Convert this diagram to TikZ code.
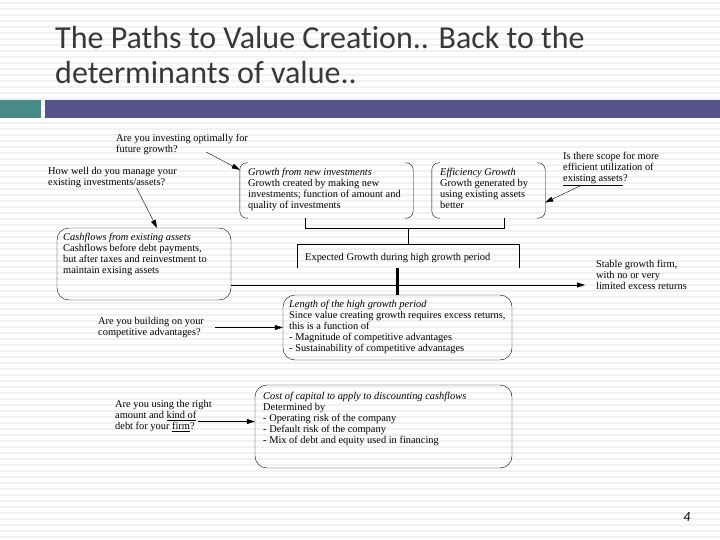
\documentclass[tikz,border=0pt]{standalone}
\usepackage{fontspec}
\setmainfont{Liberation Serif}
\newfontfamily\titlefont[Ligatures={NoCommon,NoRequired,NoContextual}]{Carlito}
\usetikzlibrary{arrows.meta,fit}
\definecolor{slidetitle}{HTML}{383838}
\definecolor{barteal}{HTML}{478A88}
\definecolor{barpurple}{HTML}{56548A}
\definecolor{stripe}{HTML}{F1F1F1}
\newcommand{\dtext}{\fontsize{10.4}{11}\selectfont}
\tikzset{
  txt/.style={font=\dtext, align=left, inner sep=0pt, anchor=north west},
  rbox/.style={draw, rounded corners=12pt, inner sep=0pt},
  frame/.style={inner sep=0pt},
  qarrow/.style={-{Triangle[length=8pt,width=5pt]}},
}
\begin{document}
\begin{tikzpicture}[x=1pt,y=-1pt]
\useasboundingbox (0,0) rectangle (720,540);
\foreach \y in {3,9,...,537}
  \draw[stripe,line width=2pt] (0,\y) -- (720,\y);
% title and bars
\node[anchor=north west, inner sep=0pt, align=left, text=slidetitle,
  font=\titlefont\fontsize{32}{35}\selectfont] (title) at (55,26)
  {The Paths to Value Creation.. Back to the\\determinants of value..};
\fill[barteal] (0,100) rectangle (41,118);
\fill[barpurple] (45,100) rectangle (720,118);
% boxes
\node[rbox, fit={(57,228) (231,300)}] (cash) {};
\node[txt] (cashtxt) at (63,233) {\textit{Cashflows from existing assets}\\Cashflows before debt payments,\\but after taxes and reinvestment to\\maintain exising assets};
\node[frame, fit={(240,163) (413,218)}] (grnew) {};
\node[txt] (grnewtxt) at (248,168) {\textit{Growth from new investments}\\Growth created by making new\\investments; function of amount and\\quality of investments};
\node[frame, fit={(432,163) (545,218)}] (geff) {};
\node[txt] (gefftxt) at (440,168) {\textit{Efficiency Growth}\\Growth generated by\\using existing assets\\better};
\foreach \b in {grnew,geff} {
  \draw[rounded corners=7pt] ([xshift=8pt]\b.north west) -- (\b.north west) -- (\b.south west) -- ([xshift=8pt]\b.south west);
  \draw[rounded corners=7pt] ([xshift=-8pt]\b.north east) -- (\b.north east) -- (\b.south east) -- ([xshift=-8pt]\b.south east);
}
\node[frame, fit={(297,244) (519,268)}] (expg) {};
\draw (expg.south west) -- (expg.north west) -- (expg.north east) -- (expg.south east);
\node[txt, anchor=west] (expgtxt) at (305,258) {Expected Growth during high growth period};
\node[rbox, fit={(283,295) (512,360)}] (hlen) {};
\node[txt] (hlentxt) at (289,300) {\textit{Length of the high growth period}\\Since value creating growth requires excess returns,\\this is a function of\\- Magnitude of competitive advantages\\- Sustainability of competitive advantages};
\node[rbox, fit={(255,385) (512,468)}] (coc) {};
\node[txt] (coctxt) at (263,392) {\textit{Cost of capital to apply to discounting cashflows}\\Determined by\\- Operating risk of the company\\- Default risk of the company\\- Mix of debt and equity used in financing};
% questions
\node[txt] (q1) at (116,134) {Are you investing optimally for\\future growth?};
\node[txt] (q2) at (48,167) {How well do you manage your\\existing investments/assets?};
\node[txt] (q3) at (563,152) {Is there scope for more\\efficient utilization of\\\underline{existing assets}?};
\node[txt] (q4) at (98,317) {Are you building on your\\competitive advantages?};
\node[txt] (q5) at (115,400) {Are you using the right\\amount and \underline{kind of}\\debt for your \underline{firm}?};
\node[txt] (stable) at (596,260) {Stable growth firm,\\with no or very\\limited excess returns};
% connectors
\coordinate (brl) at (305,218);
\coordinate (brr) at (504,218);
\draw (brl) -- ++(0,10) -| (brr);
\draw (expg.north) -- ++(0,-16);
\draw[line width=3pt] (hlen.north) -- (hlen.north |- expg.south);
\coordinate (hz) at ([yshift=-21pt]cash.east);
\draw[qarrow] (hz) -- (hz -| stable.west) [shorten >=11pt];
\draw[qarrow] ([xshift=24pt,yshift=3pt]q1.south) -- ([yshift=-7pt]grnew.north west);
\draw[qarrow] ([xshift=24pt]q2.south) -- ([xshift=13pt]cash.north);
\draw[qarrow] ([xshift=17pt]q3.south west) -- ([yshift=-12pt]geff.east);
\draw[qarrow] (hlen.west) ++(-68,0) -- (hlen.west);
\draw[qarrow] ([yshift=5pt]coc.west) ++(-57,0) -- ([yshift=5pt]coc.west);
\node[font=\titlefont\itshape\fontsize{14}{14}\selectfont] (pgnum) at (687,517) {4};
\end{tikzpicture}
\end{document}
